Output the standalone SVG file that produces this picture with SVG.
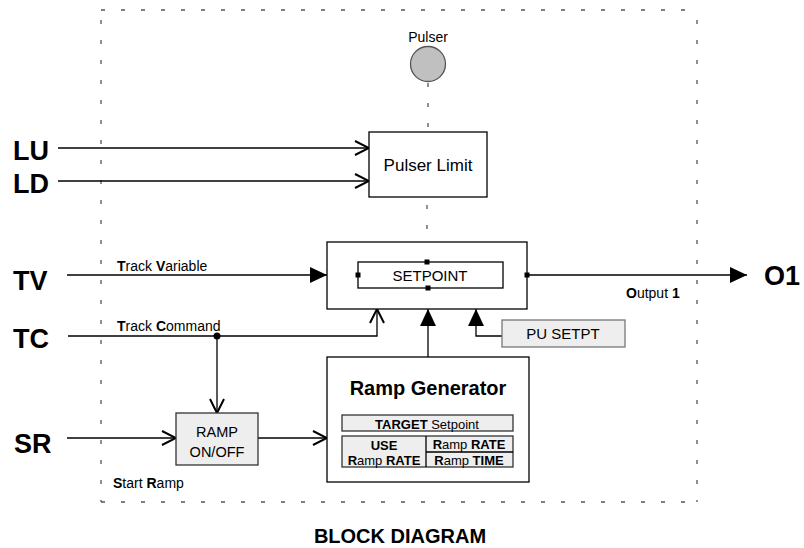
<svg xmlns="http://www.w3.org/2000/svg" width="804" height="548" viewBox="0 0 804 548">
<style>
text{font-family:"Liberation Sans",Arial,sans-serif;fill:#000}
.big{font-size:27px;font-weight:bold}
.sm{font-size:14px}
.tb{font-size:13px}
.b{font-weight:bold}
.ln{fill:none;stroke:#000;stroke-width:1.3}
.box{fill:#fff;stroke:#000;stroke-width:1.3}
.gbox{fill:#eeeeee;stroke:#333;stroke-width:1.3}
.pbox{fill:#eeeeee;stroke:#777;stroke-width:1.3}
.dash{fill:none;stroke:#555;stroke-width:1.3;stroke-dasharray:4 16}
.sq{fill:#000}
</style>
<defs>
<marker id="open" viewBox="-16 -9 18 18" refX="0" refY="0" markerWidth="18" markerHeight="18" orient="auto" markerUnits="userSpaceOnUse">
<path d="M-14,-7 L0,0 L-14,7" fill="none" stroke="#000" stroke-width="2"/>
</marker>
<marker id="fill" viewBox="-18 -9 19 18" refX="0" refY="0" markerWidth="19" markerHeight="18" orient="auto" markerUnits="userSpaceOnUse">
<path d="M0,0 L-17,-8 L-17,8 Z" fill="#000"/>
</marker>
</defs>
<rect width="804" height="548" fill="#fff"/>

<g id="boundary">
<path class="dash" d="M101,10 H697 M101,502 H697 M101,20 V502 M697,20 V502"/>
</g>

<g id="connectors">
<path class="ln" d="M58,148 H369" marker-end="url(#open)"/>
<path class="ln" d="M58,181 H369" marker-end="url(#open)"/>
<path class="dash" d="M428,83 V132" stroke-dashoffset="0"/>
<path class="dash" d="M427,205 V242"/>
<path class="ln" d="M427,242 V262"/>
<path class="ln" d="M67,275 H327" marker-end="url(#fill)"/>
<path class="ln" d="M327,275 H358"/>
<path class="ln" d="M503,275 H527"/>
<path class="ln" d="M527,275 H747" marker-end="url(#fill)"/>
<path class="ln" d="M68,336 H377 V309" marker-end="url(#open)"/>
<path class="ln" d="M217,336 V413" marker-end="url(#open)"/>
<circle cx="217" cy="336" r="3.5" fill="#000"/>
<path class="ln" d="M428,288 V309"/>
<path class="ln" d="M428,357 V309" marker-end="url(#fill)"/>
<path class="ln" d="M502,336 H476 V309" marker-end="url(#fill)"/>
<path class="ln" d="M67,438 H176" marker-end="url(#open)"/>
<path class="ln" d="M258,438 H327" marker-end="url(#open)"/>
</g>

<g id="labels">
<text class="big" x="13" y="160">LU</text>
<text class="big" x="13" y="193">LD</text>
<text class="big" x="13" y="290">TV</text>
<text class="big" x="13" y="348">TC</text>
<text class="big" x="14" y="453">SR</text>
<text class="big" x="764" y="285">O1</text>
<text class="sm" x="117" y="271"><tspan class="b">T</tspan>rack <tspan class="b">V</tspan>ariable</text>
<text class="sm" x="117" y="331"><tspan class="b">T</tspan>rack <tspan class="b">C</tspan>ommand</text>
<text class="sm" x="626" y="298"><tspan class="b">O</tspan>utput <tspan class="b">1</tspan></text>
<text class="sm" x="113" y="488"><tspan class="b">S</tspan>tart <tspan class="b">R</tspan>amp</text>
<text x="400" y="543" text-anchor="middle" style="font-size:20px;font-weight:bold">BLOCK DIAGRAM</text>
</g>

<g id="pulser">
<text class="sm" x="428" y="42" text-anchor="middle">Pulser</text>
<circle cx="428" cy="64" r="17.5" fill="#c0c0c0" stroke="#555" stroke-width="1.3"/>
</g>

<g id="pulser-limit">
<rect class="box" x="369" y="132" width="118" height="65"/>
<text x="428" y="171" text-anchor="middle" style="font-size:17px">Pulser Limit</text>
</g>

<g id="setpoint-block">
<rect class="box" x="327" y="242" width="200" height="67"/>
<rect class="box" x="358" y="262" width="145" height="26"/>
<text x="430" y="281" text-anchor="middle" style="font-size:15px">SETPOINT</text>
<rect class="sq" x="355.5" y="272.5" width="5" height="5"/>
<rect class="sq" x="424.5" y="259.5" width="5" height="5"/>
<rect class="sq" x="425.5" y="285.5" width="5" height="5"/>
<rect class="sq" x="524.5" y="272.5" width="5" height="5"/>
</g>

<g id="pu-setpt">
<rect class="pbox" x="502" y="320" width="123" height="27"/>
<text x="563" y="339" text-anchor="middle" style="font-size:15px">PU SETPT</text>
</g>

<g id="ramp-onoff">
<rect class="gbox" x="176" y="413" width="82" height="52"/>
<text x="217" y="437" text-anchor="middle" style="font-size:14.5px">RAMP</text>
<text x="217" y="457" text-anchor="middle" style="font-size:14.5px">ON/OFF</text>
</g>

<g id="ramp-generator">
<rect class="box" x="327" y="357" width="202" height="125"/>
<text x="428" y="395" text-anchor="middle" style="font-size:20px;font-weight:bold">Ramp Generator</text>
<rect class="gbox" x="342" y="415" width="171" height="16"/>
<text class="tb" x="427" y="429" text-anchor="middle"><tspan class="b">TARGET</tspan> Setpoint</text>
<rect class="gbox" x="342" y="436" width="171" height="31"/>
<path class="ln" d="M426,436 V467 M426,452 H513"/>
<text class="tb b" x="384" y="450" text-anchor="middle">USE</text>
<text class="tb" x="384" y="465" text-anchor="middle"><tspan class="b">R</tspan>amp <tspan class="b">RATE</tspan></text>
<text class="tb" x="469" y="449" text-anchor="middle"><tspan class="b">R</tspan>amp <tspan class="b">RATE</tspan></text>
<text class="tb" x="469" y="465" text-anchor="middle"><tspan class="b">R</tspan>amp <tspan class="b">TIME</tspan></text>
</g>
</svg>
